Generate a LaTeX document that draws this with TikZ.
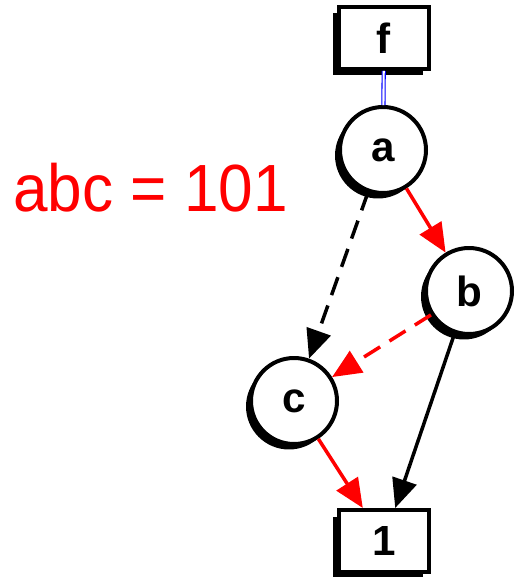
\documentclass[tikz,border=0pt]{standalone}
\usepackage{fontspec}
\setmainfont{Liberation Sans}
\usetikzlibrary{arrows.meta,shadows}

\begin{document}
\begin{tikzpicture}[x=0.02cm,y=-0.02cm,
  var/.style={circle,draw,line width=0.08cm,fill=white,minimum size=1.72cm,inner sep=0pt,
    font=\bfseries\fontsize{24}{24}\selectfont,
    drop shadow={shadow xshift=-0.1cm,shadow yshift=-0.11cm,fill=black,opacity=1}},
  leaf/.style={rectangle,draw,line width=0.08cm,fill=white,minimum width=1.8cm,minimum height=1.24cm,
    font=\bfseries\fontsize{24}{24}\selectfont,
    drop shadow={shadow xshift=-0.13cm,shadow yshift=-0.13cm,fill=black,opacity=1}},
  hi/.style={-{Triangle[length=0.58cm,width=0.5cm]},line width=0.07cm},
  lo/.style={hi,dash pattern=on 0.38cm off 0.22cm}]
  \useasboundingbox (0,0) rectangle (514,577);
  % the label
  \node[anchor=base west,inner sep=0pt,text=red,font=\fontsize{38}{38}\selectfont] (val) at (13,212)
    {\scalebox{0.93}[1]{abc = 101}};
  % diagram nodes
  \node[leaf] (f) at (384,38) {f};
  \node[var] (a) at (383,150) {a};
  \node[var] (b) at (469,291) {b};
  \node[var] (c) at (294,401) {c};
  \node[leaf] (one) at (384,541) {1};
  % edges
  \draw[blue,double=white,line width=0.6pt,double distance=1.2pt] (f) -- (a);
  \draw[hi,red] (a) -- (b);
  \draw[lo] (a) -- (c);
  \draw[lo,red] (b) -- (c);
  \draw[hi] (b) -- (one);
  \draw[hi,red] (c) -- (one);
\end{tikzpicture}
\end{document}
